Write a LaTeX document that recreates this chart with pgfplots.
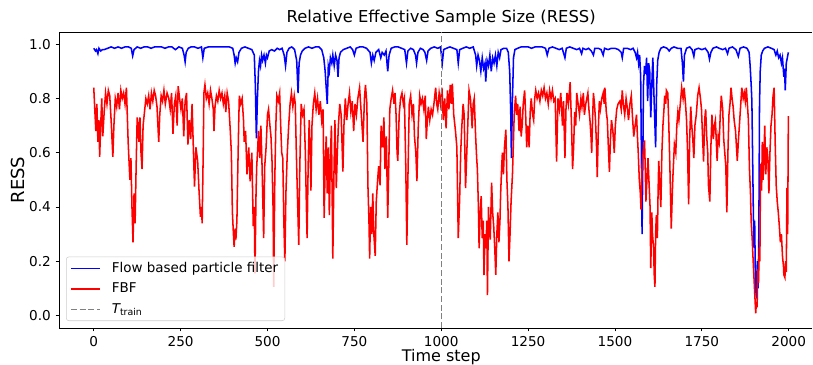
\documentclass[border=0pt]{standalone}
\usepackage{fontspec}
\setmainfont{DejaVu Sans}
\usepackage{pgfplots}
\usepackage{pgfplotstable}
\pgfplotsset{compat=1.18}

\pgfplotstableread{
t v
0 0.985
5 0.975
8 0.98
12 0.965
15 0.985
20 0.975
25 0.98
30 0.98
40 0.985
50 0.99
60 0.985
70 0.99
80 0.985
90 0.99
100 0.99
108 0.985
112 0.957
116 0.98
125 0.99
135 0.985
145 0.99
155 0.99
165 0.985
175 0.99
185 0.99
195 0.99
205 0.985
215 0.99
225 0.99
235 0.98
245 0.99
255 0.985
260 0.96
263 0.935
266 0.97
272 0.985
280 0.99
290 0.99
300 0.985
310 0.99
314 0.95
318 0.985
330 0.99
345 0.99
360 0.99
375 0.99
390 0.99
400 0.985
404 0.96
407 0.93
410 0.95
414 0.935
418 0.97
425 0.985
435 0.99
445 0.985
455 0.98
462 0.96
465 0.85
468 0.653
471 0.80
474 0.90
477 0.94
480 0.92
483 0.96
486 0.94
490 0.96
494 0.93
497 0.96
500 0.95
505 0.975
512 0.98
520 0.975
528 0.985
535 0.98
542 0.985
548 0.96
552 0.92
556 0.97
562 0.985
570 0.99
578 0.98
584 0.94
588 0.82
591 0.93
595 0.96
600 0.975
608 0.985
618 0.99
628 0.985
638 0.99
648 0.99
656 0.98
662 0.95
666 0.90
669 0.84
672 0.78
675 0.92
678 0.90
681 0.95
685 0.93
688 0.96
692 0.92
696 0.96
700 0.94
703 0.88
706 0.95
710 0.97
718 0.98
728 0.985
738 0.99
745 0.98
750 0.96
755 0.985
765 0.99
775 0.99
785 0.985
795 0.97
799 0.93
803 0.96
807 0.94
812 0.97
820 0.98
826 0.95
830 0.97
836 0.96
841 0.975
846 0.90
850 0.96
856 0.985
866 0.99
876 0.99
886 0.985
895 0.98
900 0.93
904 0.975
912 0.985
920 0.98
926 0.96
929 0.93
933 0.97
940 0.985
948 0.98
953 0.97
958 0.94
962 0.975
970 0.985
980 0.99
990 0.985
998 0.99
1003 0.93
1007 0.98
1015 0.985
1025 0.99
1035 0.985
1045 0.98
1049 0.93
1053 0.98
1062 0.985
1072 0.99
1082 0.985
1092 0.99
1099 0.96
1102 0.92
1106 0.96
1110 0.94
1114 0.90
1118 0.95
1122 0.91
1126 0.93
1128 0.862
1132 0.94
1136 0.92
1140 0.96
1144 0.90
1148 0.95
1152 0.93
1156 0.96
1160 0.92
1164 0.97
1168 0.95
1172 0.98
1180 0.985
1188 0.985
1193 0.97
1197 0.90
1200 0.75
1202 0.58
1205 0.80
1208 0.95
1212 0.98
1220 0.985
1230 0.99
1240 0.99
1250 0.99
1260 0.985
1270 0.99
1280 0.99
1290 0.99
1300 0.985
1305 0.96
1310 0.985
1320 0.99
1330 0.985
1340 0.98
1348 0.985
1356 0.95
1360 0.985
1370 0.99
1380 0.985
1390 0.98
1398 0.985
1404 0.965
1408 0.985
1416 0.98
1424 0.985
1432 0.975
1438 0.96
1442 0.985
1452 0.985
1460 0.98
1466 0.96
1470 0.985
1480 0.98
1490 0.985
1500 0.985
1510 0.98
1518 0.97
1521 0.95
1525 0.985
1535 0.985
1545 0.98
1552 0.985
1558 0.97
1562 0.95
1565 0.97
1568 0.93
1571 0.96
1574 0.88
1576 0.60
1578 0.30
1580 0.55
1582 0.85
1585 0.92
1588 0.89
1591 0.95
1594 0.79
1597 0.93
1600 0.90
1603 0.73
1606 0.85
1609 0.95
1612 0.82
1615 0.70
1617 0.62
1620 0.85
1623 0.94
1627 0.97
1632 0.985
1640 0.99
1650 0.985
1656 0.975
1662 0.985
1670 0.99
1680 0.985
1690 0.985
1694 0.93
1697 0.862
1700 0.96
1706 0.985
1715 0.99
1722 0.98
1727 0.955
1730 0.98
1740 0.985
1750 0.98
1760 0.985
1768 0.97
1772 0.945
1776 0.97
1782 0.985
1792 0.99
1800 0.985
1810 0.98
1818 0.985
1824 0.965
1828 0.985
1838 0.99
1848 0.98
1855 0.955
1860 0.985
1870 0.99
1880 0.985
1886 0.97
1889 0.92
1892 0.85
1894 0.79
1896 0.60
1898 0.40
1900 0.25
1902 0.35
1904 0.15
1906 0.08
1908 0.063
1910 0.20
1912 0.10
1914 0.30
1916 0.78
1918 0.90
1921 0.96
1925 0.975
1930 0.985
1940 0.99
1950 0.985
1958 0.98
1963 0.96
1967 0.975
1971 0.95
1975 0.96
1979 0.93
1982 0.95
1986 0.88
1988 0.91
1990 0.83
1993 0.93
1996 0.95
1999 0.97
}\flowpf

\pgfplotstableread{
t v
0 0.84
3 0.76
6 0.68
9 0.78
12 0.64
15 0.72
17 0.585
20 0.70
23 0.80
26 0.66
30 0.75
34 0.82
38 0.78
42 0.83
46 0.81
50 0.72
55 0.585
58 0.70
62 0.80
66 0.77
70 0.82
74 0.76
78 0.83
82 0.80
86 0.82
90 0.78
94 0.84
99 0.64
104 0.50
107 0.58
110 0.40
113 0.27
116 0.45
119 0.34
122 0.55
125 0.73
128 0.70
130 0.64
133 0.73
136 0.60
139 0.54
142 0.70
146 0.75
150 0.80
154 0.78
158 0.81
162 0.76
166 0.82
170 0.79
174 0.83
178 0.81
182 0.77
187 0.64
190 0.74
194 0.81
198 0.79
202 0.83
206 0.78
211 0.82
216 0.80
220 0.76
224 0.82
228 0.67
232 0.78
236 0.81
240 0.70
243 0.845
247 0.80
251 0.76
255 0.80
259 0.66
263 0.79
267 0.82
271 0.63
275 0.72
279 0.65
283 0.78
287 0.60
290 0.475
294 0.62
299 0.57
303 0.46
307 0.364
310 0.40
312 0.34
315 0.60
317 0.82
320 0.85
324 0.80
328 0.82
332 0.78
336 0.83
340 0.80
344 0.76
346 0.68
349 0.77
353 0.81
357 0.79
361 0.83
365 0.80
369 0.82
373 0.78
377 0.81
380 0.75
384 0.82
388 0.79
393 0.68
396 0.60
399 0.38
402 0.30
404 0.253
407 0.32
409 0.28
412 0.35
414 0.50
417 0.70
419 0.81
423 0.78
427 0.80
431 0.72
433 0.64
437 0.68
441 0.52
446 0.62
450 0.495
455 0.60
459 0.33
462 0.40
464 0.155
467 0.45
469 0.55
472 0.62
474 0.68
478 0.58
481 0.70
484 0.57
487 0.40
489 0.285
492 0.55
496 0.62
500 0.74
503 0.76
507 0.70
510 0.66
513 0.57
516 0.40
518 0.106
521 0.50
524 0.70
527 0.81
531 0.79
535 0.82
538 0.70
541 0.60
544 0.58
547 0.35
550 0.20
553 0.45
557 0.60
561 0.70
565 0.78
569 0.82
573 0.77
577 0.81
580 0.78
583 0.60
586 0.45
590 0.26
593 0.55
597 0.78
601 0.74
605 0.76
609 0.60
612 0.40
614 0.285
617 0.55
620 0.72
623 0.60
625 0.46
628 0.70
632 0.78
636 0.82
640 0.76
644 0.80
648 0.74
652 0.79
656 0.72
660 0.76
663 0.36
666 0.55
669 0.66
672 0.45
675 0.62
678 0.37
681 0.58
684 0.70
688 0.21
691 0.50
694 0.72
698 0.47
701 0.60
704 0.70
708 0.78
712 0.74
717 0.53
720 0.70
724 0.80
728 0.72
732 0.78
736 0.82
740 0.75
744 0.79
748 0.68
752 0.78
756 0.74
760 0.80
765 0.84
768 0.78
772 0.70
775 0.64
779 0.80
782 0.85
786 0.78
789 0.48
792 0.35
794 0.21
797 0.40
800 0.30
803 0.45
806 0.30
810 0.22
813 0.42
817 0.50
820 0.55
824 0.48
827 0.70
831 0.62
835 0.73
838 0.54
842 0.66
846 0.36
849 0.55
852 0.76
856 0.80
860 0.83
864 0.78
867 0.82
870 0.74
873 0.60
875 0.57
879 0.74
883 0.80
887 0.82
891 0.78
894 0.80
898 0.55
901 0.26
904 0.50
908 0.78
912 0.81
916 0.74
920 0.78
923 0.66
927 0.60
930 0.495
934 0.70
938 0.81
942 0.78
946 0.80
950 0.76
954 0.81
957 0.65
960 0.72
963 0.77
967 0.72
971 0.76
975 0.74
979 0.78
984 0.84
987 0.78
990 0.76
994 0.82
998 0.78
1002 0.84
1006 0.72
1010 0.80
1014 0.69
1018 0.83
1022 0.76
1026 0.85
1029 0.78
1032 0.855
1036 0.74
1041 0.68
1045 0.62
1049 0.285
1053 0.43
1056 0.60
1059 0.69
1063 0.78
1066 0.74
1070 0.47
1073 0.58
1075 0.65
1078 0.76
1080 0.83
1084 0.80
1087 0.74
1089 0.69
1092 0.78
1095 0.80
1099 0.66
1102 0.58
1104 0.54
1107 0.40
1109 0.248
1112 0.38
1115 0.44
1118 0.285
1121 0.35
1123 0.149
1126 0.30
1129 0.248
1131 0.35
1133 0.075
1136 0.40
1138 0.32
1141 0.28
1145 0.49
1148 0.38
1151 0.33
1154 0.25
1157 0.15
1160 0.30
1163 0.38
1166 0.27
1169 0.35
1171 0.45
1174 0.55
1176 0.60
1179 0.52
1182 0.62
1186 0.685
1189 0.50
1192 0.40
1195 0.20
1198 0.30
1201 0.42
1205 0.52
1208 0.65
1210 0.74
1214 0.81
1217 0.74
1220 0.78
1224 0.68
1227 0.77
1230 0.66
1233 0.70
1236 0.78
1240 0.83
1243 0.74
1246 0.62
1249 0.70
1253 0.62
1256 0.75
1259 0.80
1263 0.74
1266 0.72
1269 0.80
1272 0.83
1276 0.80
1280 0.82
1284 0.79
1288 0.83
1292 0.81
1296 0.84
1300 0.80
1304 0.82
1308 0.78
1312 0.83
1316 0.80
1320 0.83
1324 0.79
1328 0.80
1332 0.567
1336 0.80
1340 0.76
1344 0.82
1349 0.70
1352 0.79
1356 0.58
1359 0.76
1362 0.82
1366 0.78
1371 0.86
1375 0.70
1378 0.54
1381 0.62
1384 0.75
1387 0.70
1390 0.82
1394 0.78
1398 0.74
1402 0.80
1405 0.77
1409 0.82
1412 0.74
1416 0.78
1419 0.80
1422 0.82
1425 0.76
1428 0.72
1431 0.66
1433 0.60
1436 0.74
1438 0.82
1441 0.78
1444 0.72
1447 0.62
1449 0.51
1452 0.68
1455 0.79
1458 0.76
1462 0.80
1466 0.82
1469 0.78
1471 0.84
1475 0.75
1478 0.72
1481 0.62
1484 0.53
1487 0.65
1490 0.72
1494 0.68
1498 0.60
1501 0.70
1505 0.76
1509 0.78
1514 0.79
1518 0.76
1521 0.83
1524 0.78
1528 0.74
1532 0.80
1536 0.76
1539 0.72
1543 0.78
1547 0.81
1550 0.74
1554 0.66
1558 0.70
1562 0.74
1565 0.65
1567 0.60
1570 0.50
1573 0.45
1575 0.39
1578 0.55
1581 0.60
1585 0.645
1587 0.55
1589 0.42
1592 0.50
1595 0.58
1597 0.52
1599 0.46
1601 0.40
1603 0.175
1606 0.38
1608 0.30
1611 0.25
1613 0.15
1615 0.106
1617 0.30
1619 0.37
1622 0.285
1624 0.45
1626 0.57
1629 0.48
1632 0.40
1635 0.60
1638 0.70
1641 0.76
1643 0.81
1646 0.78
1648 0.83
1652 0.82
1655 0.70
1658 0.55
1662 0.32
1665 0.45
1667 0.52
1671 0.63
1675 0.60
1678 0.70
1681 0.75
1684 0.72
1688 0.78
1692 0.84
1696 0.80
1699 0.84
1703 0.78
1706 0.72
1709 0.60
1712 0.41
1715 0.65
1718 0.77
1721 0.70
1724 0.65
1727 0.58
1730 0.70
1734 0.74
1738 0.81
1742 0.84
1746 0.80
1749 0.76
1752 0.66
1755 0.567
1758 0.72
1761 0.76
1764 0.66
1767 0.60
1769 0.48
1773 0.42
1776 0.62
1779 0.74
1783 0.65
1786 0.70
1789 0.72
1794 0.57
1797 0.66
1800 0.64
1803 0.74
1806 0.81
1810 0.76
1813 0.65
1816 0.60
1819 0.55
1822 0.38
1825 0.60
1828 0.74
1831 0.78
1834 0.84
1837 0.80
1840 0.77
1843 0.72
1847 0.68
1852 0.57
1855 0.64
1858 0.70
1862 0.78
1865 0.84
1869 0.80
1872 0.82
1875 0.79
1878 0.84
1881 0.78
1884 0.72
1887 0.54
1890 0.45
1892 0.345
1895 0.28
1897 0.22
1900 0.14
1902 0.087
1905 0.008
1907 0.05
1909 0.03
1911 0.17
1913 0.12
1915 0.25
1917 0.20
1919 0.56
1922 0.46
1924 0.64
1926 0.50
1928 0.55
1931 0.70
1934 0.52
1937 0.62
1940 0.58
1943 0.45
1946 0.60
1949 0.70
1952 0.74
1955 0.81
1958 0.84
1961 0.64
1964 0.48
1967 0.42
1970 0.38
1973 0.33
1976 0.27
1979 0.30
1982 0.22
1985 0.18
1986 0.15
1989 0.14
1991 0.20
1993 0.16
1995 0.47
1997 0.30
1999 0.735
}\fbf

\begin{document}
\begin{tikzpicture}
\useasboundingbox (0,0) rectangle (609.75pt,273pt);
\begin{axis}[
  at={(44.25pt,27pt)}, anchor=south west,
  scale only axis, width=565pt, height=222pt,
  xmin=-100, xmax=2068, ymin=-0.046, ymax=1.045,
  axis y line*=left, y axis line style={-},
  axis line style={line width=0.6pt},
  tick align=outside, tick pos=left,
  major tick length=2.6pt,
  every tick/.style={black, line width=0.6pt},
  xtick={0,250,500,750,1000,1250,1500,1750,2000},
  ytick={0,0.2,0.4,0.6,0.8,1.0},
  /pgf/number format/1000 sep={},
  yticklabel style={/pgf/number format/.cd, fixed, fixed zerofill, precision=1},
  /pgf/number format/assume math mode=true,
  tick label style={font=\fontsize{10.2}{12}\selectfont},
  every axis title shift=0pt,
  title={Relative Effective Sample Size (RESS)},
  title style={at={(0.5074,1)}, anchor=south, yshift=1pt, font=\fontsize{12.3}{14}\selectfont},
  xlabel={Time step},
  xlabel style={at={(0.5074,0)}, anchor=north, yshift=-16pt, inner sep=0pt, font=\fontsize{12}{14}\selectfont},
  ylabel={RESS},
  ylabel style={at={(axis description cs:-0.0544,0.5)}, anchor=center, font=\fontsize{13.5}{15}\selectfont},
  legend cell align=left,
  legend style={at={(0.0093,0.0236)}, anchor=south west, draw=black!20,
    rounded corners=2pt, fill=white, fill opacity=0.8, text opacity=1,
    font=\fontsize{10.1}{12}\selectfont, inner xsep=3pt, inner ysep=2pt, row sep=2.5pt},
  legend image code/.code={\draw[#1] (0pt,0pt) -- (21.75pt,0pt); \path (28pt,0pt);},
]
\addplot[blue, line width=1.15pt] table[x=t,y=v] {\flowpf};
\addlegendentry{Flow based particle filter}
\addplot[red, line width=1.15pt] table[x=t,y=v] {\fbf};
\addlegendentry{FBF}
\addplot[black!50, line width=1pt, dash pattern=on 4.5pt off 2pt] coordinates {(1000,-0.046) (1000,1.045)};
\addlegendentry{{\itshape T}\textsubscript{train}}
\end{axis}
\end{tikzpicture}
\end{document}
